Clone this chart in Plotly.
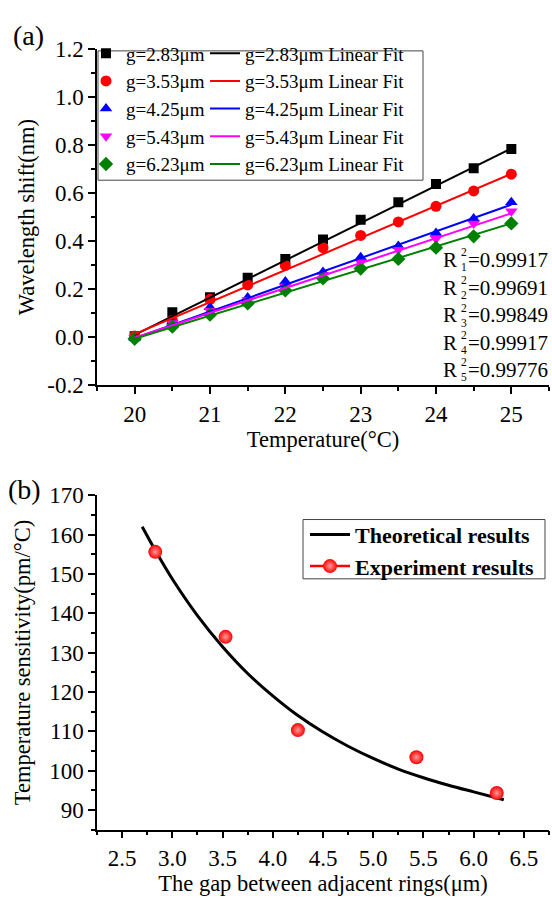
import plotly.graph_objects as go

W, H = 552, 901
FONT = "Liberation Serif"

# ---------------- Panel (a) data ----------------
temperature = [20, 20.5, 21, 21.5, 22, 22.5, 23, 23.5, 24, 24.5, 25]
gap_labels = ["g=2.83\u03bcm", "g=3.53\u03bcm", "g=4.25\u03bcm", "g=5.43\u03bcm", "g=6.23\u03bcm"]
shift_g283 = [0.004, 0.104, 0.167, 0.248, 0.326, 0.407, 0.489, 0.562, 0.638, 0.703, 0.784]
shift_g353 = [0.005, 0.070, 0.158, 0.218, 0.299, 0.373, 0.424, 0.480, 0.545, 0.609, 0.679]
shift_g425 = [-0.003, 0.065, 0.125, 0.166, 0.232, 0.272, 0.333, 0.380, 0.434, 0.494, 0.562]
shift_g543 = [-0.002, 0.060, 0.110, 0.155, 0.211, 0.259, 0.312, 0.364, 0.410, 0.474, 0.525]
shift_g623 = [-0.006, 0.044, 0.094, 0.141, 0.195, 0.245, 0.286, 0.326, 0.373, 0.420, 0.474]
fit_temps = [20, 25]
fit_g283 = [0.010, 0.786]
fit_g353 = [0.013, 0.680]
fit_g425 = [-0.004, 0.552]
fit_g543 = [-0.002, 0.516]
fit_g623 = [-0.006, 0.474]
r2_index = ["1", "2", "3", "4", "5"]
r2_values = ["0.99917", "0.99691", "0.99849", "0.99917", "0.99776"]
a_xticks = [20, 21, 22, 23, 24, 25]
a_yticks = [-0.2, 0.0, 0.2, 0.4, 0.6, 0.8, 1.0, 1.2]
a_ytick_labels = ["-0.2", "0.0", "0.2", "0.4", "0.6", "0.8", "1.0", "1.2"]

# ---------------- Panel (b) data ----------------
gap_um = [2.83, 3.53, 4.25, 5.43, 6.23]
sensitivity = [155.6, 134.0, 110.3, 103.4, 94.3]
theory_gap = [2.70, 2.85, 3.0, 3.25, 3.5, 3.75, 4.0, 4.25, 4.5, 4.75, 5.0, 5.25, 5.5, 5.75, 6.0, 6.3]
theory_sens = [162.0, 155.1, 148.7, 139.4, 131.5, 124.7, 119.0, 114.0, 109.8, 106.2, 103.1, 100.4, 98.2, 96.3, 94.6, 92.6]
b_xticks = [2.5, 3.0, 3.5, 4.0, 4.5, 5.0, 5.5, 6.0, 6.5]
b_yticks = [90, 100, 110, 120, 130, 140, 150, 160, 170]

shifts = [shift_g283, shift_g353, shift_g425, shift_g543, shift_g623]
fits = [fit_g283, fit_g353, fit_g425, fit_g543, fit_g623]
colors = ["#000000", "#ff0000", "#0000ff", "#ff00ff", "#008000"]
symbols = ["square", "circle", "triangle-up", "triangle-down", "diamond"]
msizes = [10, 11, 11, 11, 11]


def px(x):
    return x / W


def py(y):
    return 1 - y / H


fig = go.Figure()

for i in range(5):
    fig.add_trace(go.Scatter(
        x=temperature, y=shifts[i], mode="markers", name=gap_labels[i],
        marker=dict(symbol=symbols[i], size=msizes[i], color=colors[i]),
        xaxis="x", yaxis="y", legend="legend"))
for i in range(5):
    fig.add_trace(go.Scatter(
        x=fit_temps, y=fits[i], mode="lines", name=gap_labels[i] + " Linear Fit",
        line=dict(color=colors[i], width=2),
        xaxis="x", yaxis="y", legend="legend2"))

sphere = dict(symbol="circle", size=14, color="#ff0000",
              gradient=dict(type="radial", color="#ff9a9a"), line=dict(width=0))
fig.add_trace(go.Scatter(
    x=theory_gap, y=theory_sens, mode="lines", name="Theoretical results",
    line=dict(color="black", width=3, shape="spline"),
    xaxis="x2", yaxis="y2", legend="legend3"))
fig.add_trace(go.Scatter(
    x=gap_um, y=sensitivity, mode="markers", name="Experiment results",
    marker=sphere, showlegend=False, xaxis="x2", yaxis="y2"))
fig.add_trace(go.Scatter(
    x=[None], y=[None], mode="lines+markers", name="Experiment results",
    line=dict(color="#ff0000", width=2.5), marker=sphere,
    xaxis="x2", yaxis="y2", legend="legend3"))

axis_common = dict(
    showline=True, linecolor="black", linewidth=1.5, ticks="outside",
    ticklen=7, tickwidth=1.5, tickcolor="black", showgrid=False, zeroline=False,
    mirror=False, tickfont=dict(family=FONT, size=23, color="black"),
)
TITLE_FONT = dict(family=FONT, size=22.5, color="black")

dom_x = [px(97), px(549)]
fig.update_layout(
    width=W, height=H, margin=dict(l=0, r=0, t=0, b=0),
    paper_bgcolor="white", plot_bgcolor="white",
    font=dict(family=FONT, color="black"),
    xaxis=dict(domain=dom_x, range=[19.5, 25.5], tickvals=a_xticks, anchor="y",
               minor=dict(dtick=0.5, ticks="outside", ticklen=4, tickwidth=1.5, tickcolor="black"),
               title=dict(text="Temperature(\u00b0C)", font=TITLE_FONT, standoff=0),
               **axis_common),
    yaxis=dict(domain=[py(384), py(38)], range=[-0.2, 1.2], tickvals=a_yticks,
               ticktext=a_ytick_labels, anchor="x",
               minor=dict(dtick=0.1, ticks="outside", ticklen=4, tickwidth=1.5, tickcolor="black"),
               title=dict(text="Wavelength shift(nm)", font=TITLE_FONT, standoff=6),
               **axis_common),
    xaxis2=dict(domain=dom_x, range=[2.25, 6.75], tickvals=b_xticks, tickformat=".1f", anchor="y2",
                minor=dict(dtick=0.25, ticks="outside", ticklen=4, tickwidth=1.5, tickcolor="black"),
                title=dict(text="The gap between adjacent rings(\u03bcm)", font=TITLE_FONT, standoff=2),
                **axis_common),
    yaxis2=dict(domain=[py(841), py(497)], range=[85, 170], tickvals=b_yticks, anchor="x2",
                minor=dict(dtick=5, ticks="outside", ticklen=4, tickwidth=1.5, tickcolor="black"),
                title=dict(text="Temperature sensitivity(pm/\u00b0C)", font=TITLE_FONT, standoff=12),
                **axis_common),
    legend=dict(x=px(86), y=py(23), xanchor="left", yanchor="top", bgcolor="rgba(0,0,0,0)",
                borderwidth=0, font=dict(family=FONT, size=19), tracegroupgap=0, itemsizing="trace"),
    legend2=dict(x=px(205), y=py(23), xanchor="left", yanchor="top", bgcolor="rgba(0,0,0,0)",
                 borderwidth=0, font=dict(family=FONT, size=19), tracegroupgap=0),
    legend3=dict(x=px(305), y=py(516), xanchor="left", yanchor="top", bgcolor="rgba(0,0,0,0)",
                 borderwidth=0, font=dict(family=FONT, size=22, weight="bold"), tracegroupgap=0,
                 itemwidth=40),
)

# legend frames
fig.add_shape(type="rect", xref="paper", yref="paper", x0=px(98), x1=px(423), y0=py(173), y1=py(40),
              line=dict(color="#444", width=1), fillcolor="rgba(0,0,0,0)", layer="above")
fig.add_shape(type="rect", xref="paper", yref="paper", x0=px(303), x1=px(545), y0=py(583), y1=py(522),
              line=dict(color="#444", width=1), fillcolor="rgba(0,0,0,0)", layer="above")

annotations = [
    dict(text="(a)", x=px(11), y=py(24), xanchor="left", yanchor="middle", font=dict(size=28)),
    dict(text="(b)", x=px(6), y=py(491), xanchor="left", yanchor="middle", font=dict(size=28)),
]
row_y = [255, 283.5, 312, 340, 368]
for i in range(5):
    yc = row_y[i]
    annotations.append(dict(text="R", x=px(459), y=py(yc), xanchor="right", yanchor="middle",
                            font=dict(size=21)))
    annotations.append(dict(text="2<br>" + r2_index[i], x=px(463.5), y=py(yc), xanchor="center",
                            yanchor="middle", font=dict(size=11.5), borderpad=0))
    annotations.append(dict(text="=" + r2_values[i], x=px(550), y=py(yc), xanchor="right", yanchor="middle",
                            font=dict(size=21)))
for a in annotations:
    a.update(xref="paper", yref="paper", showarrow=False)
    a["font"].update(family=FONT, color="black")
fig.update_layout(annotations=annotations)

fig.write_html(
    "out.html",
    config={"displayModeBar": False},
    post_script="document.body.style.margin='0';document.body.style.overflow='hidden';",
)
